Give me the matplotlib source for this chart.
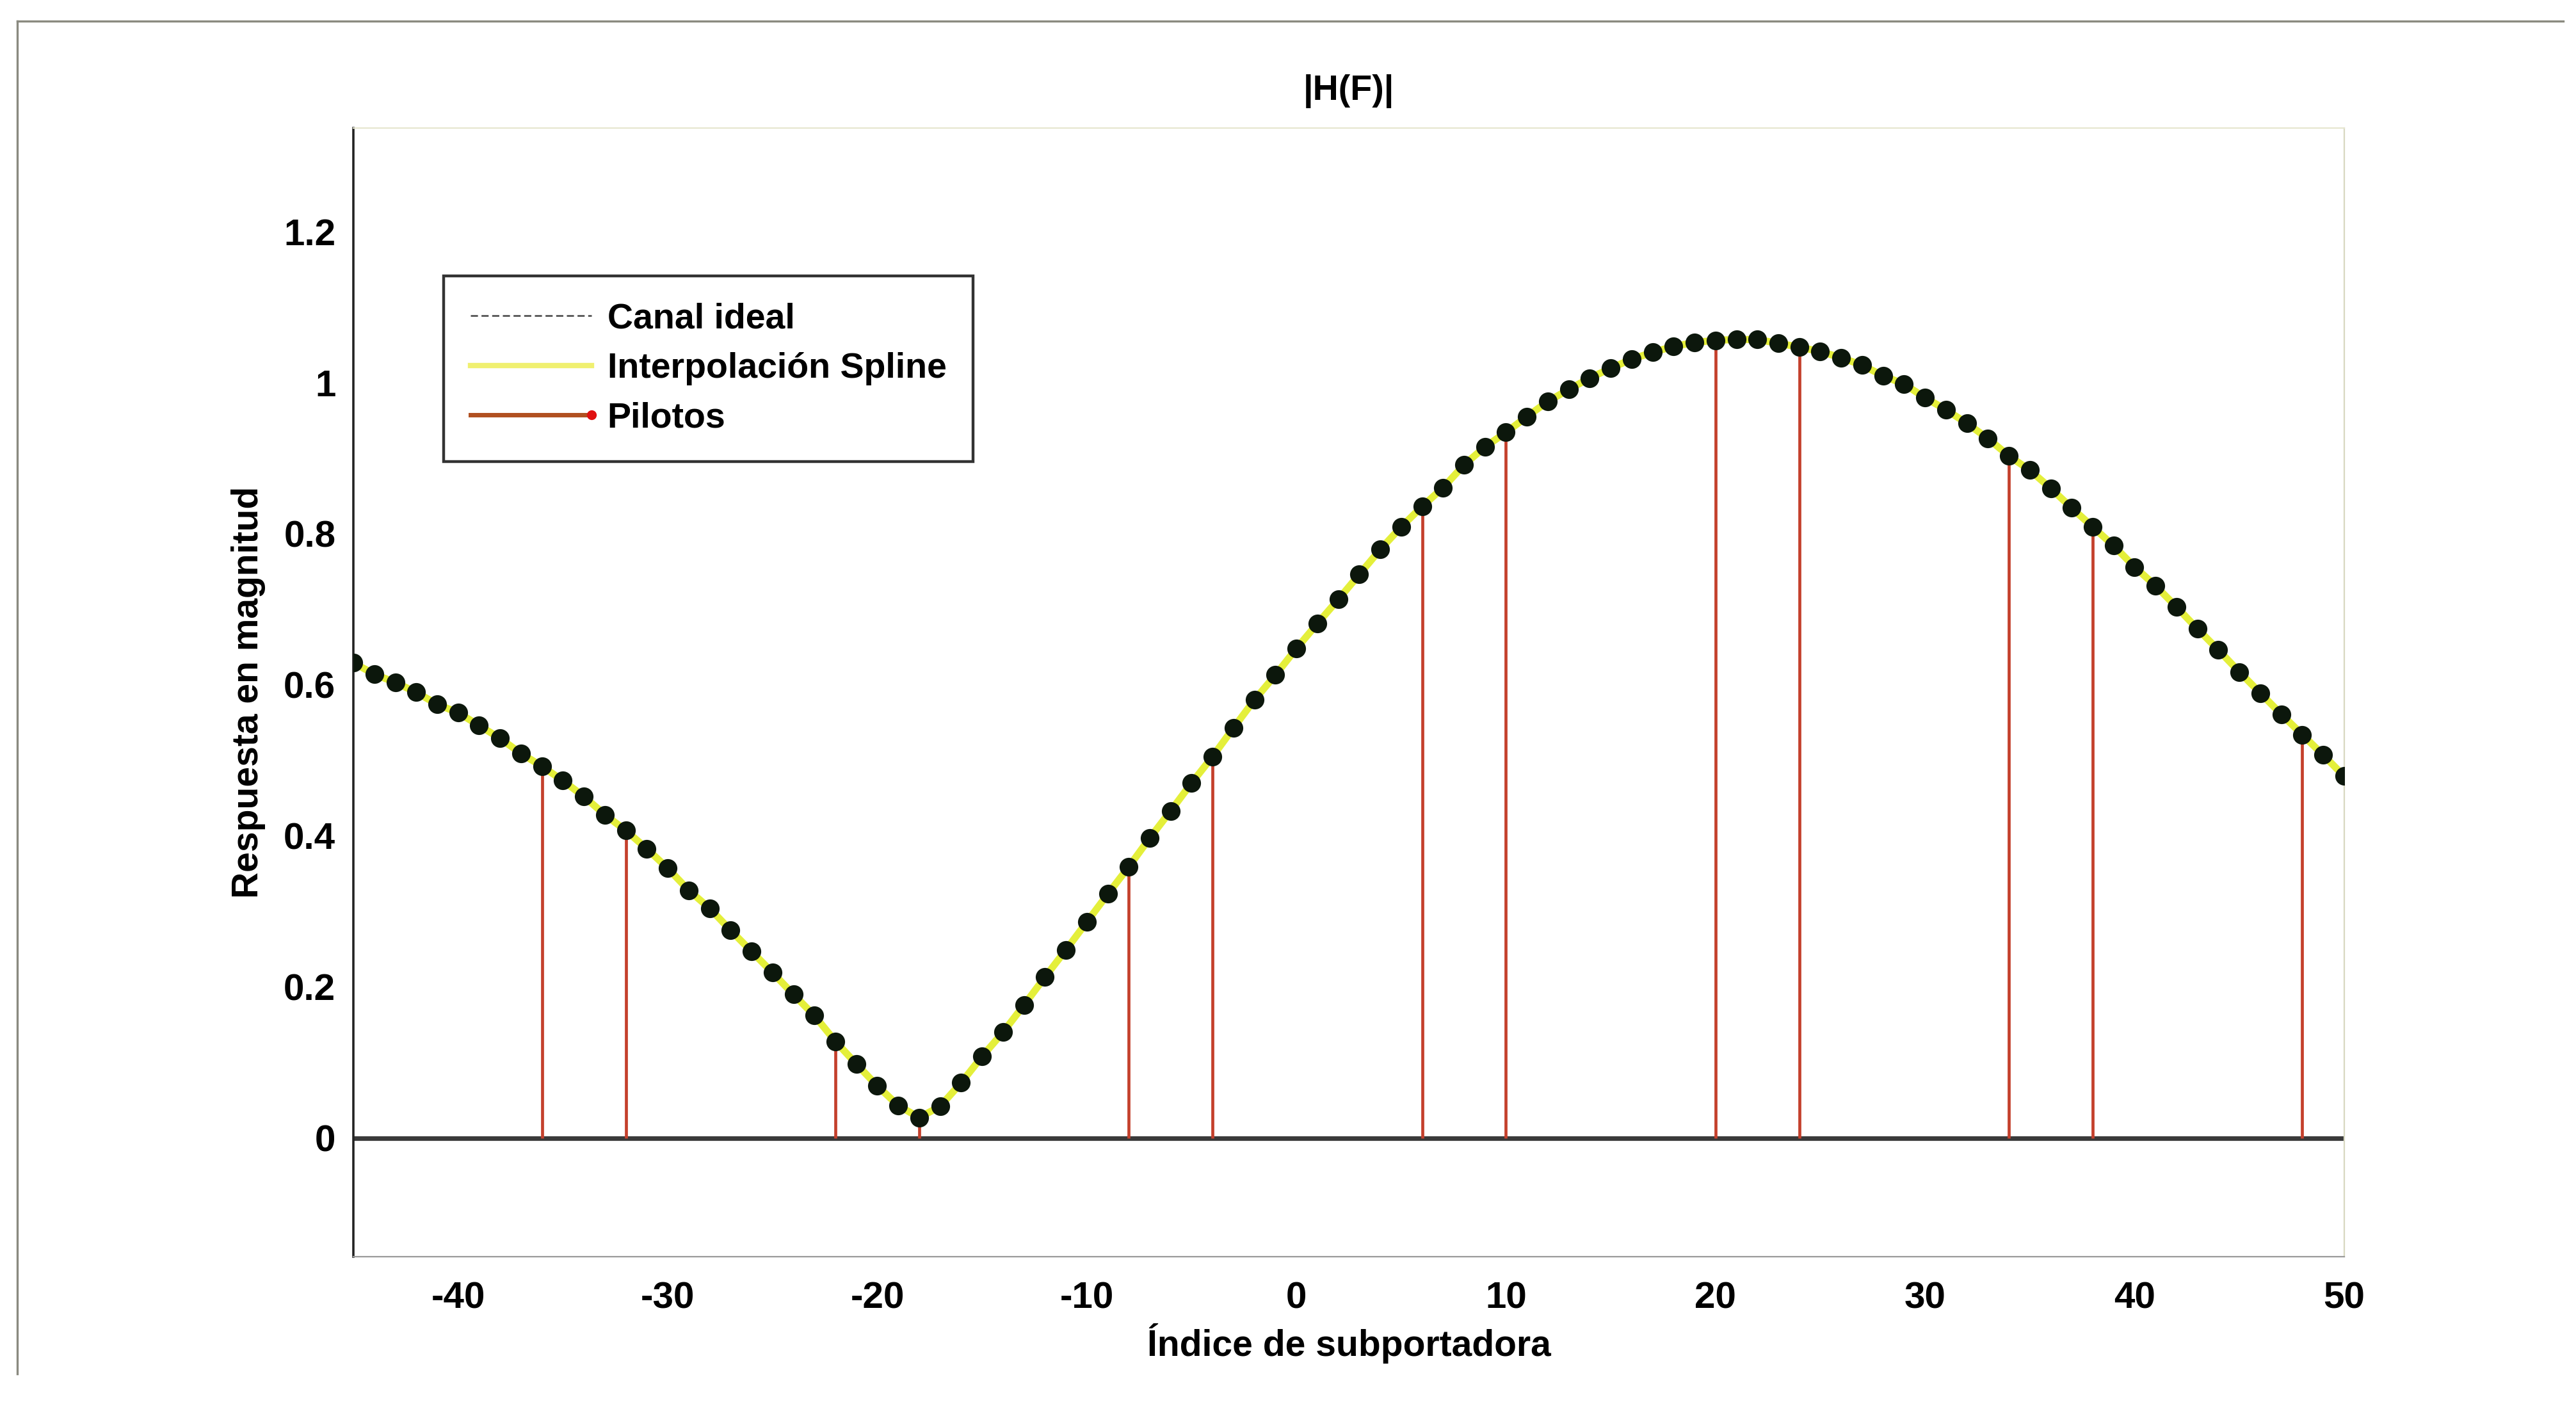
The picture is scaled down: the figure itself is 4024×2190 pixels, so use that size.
import numpy as np
import matplotlib
matplotlib.use("Agg")
import matplotlib.pyplot as plt
from matplotlib.lines import Line2D
from matplotlib.legend_handler import HandlerBase

plt.rcParams["font.family"] = ["Liberation Sans", "DejaVu Sans"]
plt.rcParams["font.weight"] = "bold"
plt.rcParams["axes.unicode_minus"] = False

# subcarrier index and |H|
k = np.arange(-45, 51)
h_ideal = [0.629, 0.614, 0.603, 0.590, 0.574, 0.563, 0.546, 0.529, 0.509, 0.492,
           0.473, 0.452, 0.428, 0.407, 0.383, 0.357, 0.328, 0.304, 0.275, 0.247,
           0.219, 0.190, 0.162, 0.128, 0.098, 0.069, 0.043, 0.027, 0.042, 0.073,
           0.108, 0.140, 0.176, 0.213, 0.249, 0.286, 0.323, 0.359, 0.397, 0.433,
           0.470, 0.505, 0.543, 0.580, 0.613, 0.648, 0.681, 0.713, 0.746, 0.779,
           0.809, 0.836, 0.861, 0.891, 0.915, 0.934, 0.955, 0.975, 0.991, 1.006,
           1.019, 1.031, 1.040, 1.048, 1.053, 1.056, 1.057, 1.057, 1.052, 1.047,
           1.041, 1.033, 1.023, 1.009, 0.998, 0.980, 0.964, 0.946, 0.926, 0.903,
           0.884, 0.860, 0.834, 0.809, 0.784, 0.756, 0.731, 0.703, 0.674, 0.646,
           0.617, 0.589, 0.561, 0.534, 0.507, 0.479]
h_spline = h_ideal  # spline curve lies on the ideal one at this scale

pil_k = [-36, -32, -22, -18, -8, -4, 6, 10, 20, 24, 34, 38, 48]
pil_h = [0.492, 0.407, 0.128, 0.027, 0.359, 0.505, 0.835, 0.932, 1.056, 1.047,
         0.903, 0.809, 0.534]


class StemKey(HandlerBase):
    # legend key for the pilots: line with the dot at its right end
    def create_artists(self, legend, orig, xd, yd, w, h, fs, trans):
        y = (h - yd) / 2.0
        ln = Line2D([-xd, -xd + w], [y, y], color="#b05020", lw=2.5, transform=trans)
        mk = Line2D([-xd + w], [y], ls="none", marker=".", ms=9,
                    color="#e01010", transform=trans)
        return [ln, mk]


fig = plt.figure(figsize=(20.12, 10.95), dpi=200)
ax = fig.add_axes([0.1372, 0.1037, 0.7728, 0.805])

# pilots as stems
ml, sl, bl = ax.stem(pil_k, pil_h, basefmt=" ")
plt.setp(sl, color="#c4402c", lw=1.7)
plt.setp(ml, color="#d02020", marker=".", markersize=6)
ax.axhline(0, color="#3a3a3a", lw=2.6, zorder=1)

ax.plot(k, h_spline, color="#e4ef3a", lw=4, zorder=3)
ax.plot(k, h_ideal, ls="none", marker="o", ms=9.5, color="#0c170c", zorder=4)

ax.set_xlim(-45, 50)
ax.set_ylim(-0.157, 1.337)
ax.set_xticks(np.arange(-40, 51, 10))
ax.set_yticks([0, 0.2, 0.4, 0.6, 0.8, 1, 1.2])
ax.set_yticklabels(["0", "0.2", "0.4", "0.6", "0.8", "1", "1.2"])
ax.tick_params(length=0, labelsize=21, pad=10)
ax.tick_params(axis="x", pad=14)
for lab in ax.get_xticklabels() + ax.get_yticklabels():
    lab.set_fontweight("bold")

ax.spines["left"].set_color("#222222")
ax.spines["left"].set_linewidth(1.3)
ax.spines["bottom"].set_color("#9a9a9a")
ax.spines["top"].set_color("#e6e6d0")
ax.spines["right"].set_color("#d8d8c0")

ax.set_title("|H(F)|", fontsize=20, fontweight="bold", pad=16)
ax.set_xlabel("Índice de subportadora", fontsize=20.5, fontweight="bold", labelpad=4)
ax.set_ylabel("Respuesta en magnitud", fontsize=20.5, fontweight="bold", labelpad=10)

pilot_key = object()
handles = [
    Line2D([], [], color="#555555", lw=1, ls=(0, (4, 2))),
    Line2D([], [], color="#f0f070", lw=3),
    pilot_key,
]
leg = ax.legend(handles, ["Canal ideal", "Interpolación Spline", "Pilotos"],
                handler_map={pilot_key: StemKey()},
                loc="upper left", bbox_to_anchor=(0.0453, 0.869),
                fontsize=20, handlelength=3.4, handletextpad=0.45,
                labelspacing=0.46, borderpad=0.75, borderaxespad=0,
                fancybox=False, framealpha=1, edgecolor="#333333")
leg.get_frame().set_linewidth(1.6)
for t in leg.get_texts():
    t.set_fontweight("bold")

# scanned page frame
fig.add_artist(Line2D([0.0067, 0.995], [0.985, 0.985], color="#8a8a80", lw=1.2))
fig.add_artist(Line2D([0.0067, 0.0067], [0.02, 0.985], color="#8a8a80", lw=1.2))

fig.savefig("out.png", dpi=200, facecolor="white")
